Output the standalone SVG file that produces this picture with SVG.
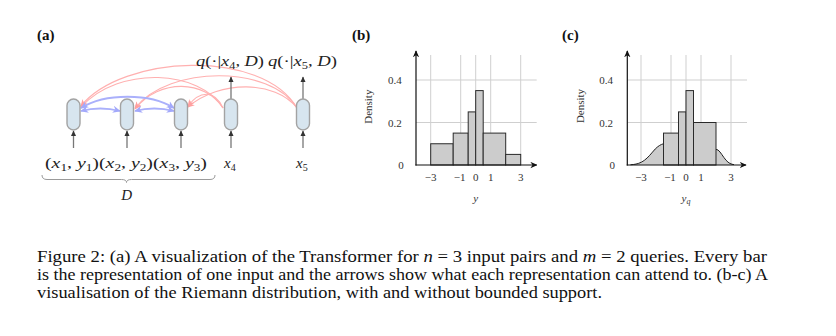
<svg xmlns="http://www.w3.org/2000/svg" width="836" height="336" viewBox="0 0 836 336">
<style>
.lbl{font-family:"Liberation Serif","Times New Roman",serif;font-weight:bold;font-size:15px;fill:#111}
.math{font-family:"Liberation Serif","DejaVu Serif",serif;font-size:15px;fill:#222}
.it{font-style:italic}
.node{fill:#d7e5ef;stroke:#a3a3a3;stroke-width:1.4}
.vin{stroke:#777;stroke-width:1.3;fill:none;marker-end:url(#ah)}
.pink{stroke:#ffb0b0;stroke-width:1.1;fill:none;marker-end:url(#ap)}
.blue{stroke:#aab0fb;stroke-width:1.8;fill:none;marker-start:url(#ab);marker-end:url(#ab)}
.grid{stroke:#cfcfcf;stroke-width:1}
.axis{stroke:#111;stroke-width:1.2;fill:none;marker-end:url(#ax)}
.bar{fill:#cccccc;stroke:#2a2a2a;stroke-width:1}
.tick{font-family:"Liberation Serif","DejaVu Serif",serif;font-size:11px;fill:#333}
.cap{font-family:"Liberation Serif","Times New Roman",serif;font-size:16.5px;fill:#111}
</style>
<defs>
<marker id="ah" viewBox="0 0 10 10" refX="9" refY="5" markerWidth="6" markerHeight="7" markerUnits="userSpaceOnUse" orient="auto"><path d="M0,0.5 L10,5 L0,9.5 Z" fill="#333"/></marker>
<marker id="ap" viewBox="0 0 10 10" refX="9" refY="5" markerWidth="7" markerHeight="7" markerUnits="userSpaceOnUse" orient="auto"><path d="M0,0.5 L10,5 L0,9.5 L3,5 Z" fill="#ff9f9f"/></marker>
<marker id="ab" viewBox="0 0 10 10" refX="9" refY="5" markerWidth="8" markerHeight="8" markerUnits="userSpaceOnUse" orient="auto-start-reverse"><path d="M0,0.5 L10,5 L0,9.5 L3,5 Z" fill="#a3a9fb"/></marker>
<marker id="ax" viewBox="0 0 10 10" refX="9" refY="5" markerWidth="7" markerHeight="7" markerUnits="userSpaceOnUse" orient="auto"><path d="M0,0.5 L10,5 L0,9.5 L3,5 Z" fill="#111"/></marker>
</defs>
<rect width="836" height="336" fill="#ffffff"/>

<!-- panel labels -->
<text class="lbl" x="37" y="40">(a)</text>
<text class="lbl" x="352" y="40">(b)</text>
<text class="lbl" x="562" y="40">(c)</text>

<!-- connectors -->
<g id="connectors">
<path class="pink" d="M297,108 C262,48 122,55 81,106"/>
<path class="pink" d="M223,108 C200,70 120,65 81,107"/>
<path class="pink" d="M297,108 C270,65 170,65 135,108"/>
<path class="pink" d="M223,108 C205,80 160,78 135,109"/>
<path class="pink" d="M297,108 C275,80 220,80 188,107"/>
<path class="pink" d="M223,108 C215,90 200,90 188,106"/>
<path class="blue" d="M81,108 C105,93 150,93 174,108"/>
<path class="blue" d="M81,111 Q100,106 120,111"/>
<path class="blue" d="M135,111 Q154,106 174,111"/>
<line class="vin" x1="73.5" y1="148" x2="73.5" y2="131"/>
<line class="vin" x1="127" y1="148" x2="127" y2="131"/>
<line class="vin" x1="181" y1="148" x2="181" y2="131"/>
<line class="vin" x1="231" y1="148" x2="231" y2="131"/>
<line class="vin" x1="303" y1="148" x2="303" y2="131"/>
<line class="vin" x1="231" y1="99" x2="231" y2="77"/>
<line class="vin" x1="303" y1="99" x2="303" y2="77"/>
</g>

<!-- nodes -->
<g id="node-1"><rect class="node" x="67" y="99" width="13" height="31" rx="6.5"/></g>
<g id="node-2"><rect class="node" x="120.5" y="99" width="13" height="31" rx="6.5"/></g>
<g id="node-3"><rect class="node" x="174.5" y="99" width="13" height="31" rx="6.5"/></g>
<g id="node-4"><rect class="node" x="224.5" y="99" width="13" height="31" rx="6.5"/></g>
<g id="node-5"><rect class="node" x="296.5" y="99" width="13" height="31" rx="6.5"/></g>

<!-- labels panel a -->
<text class="math" x="196" y="66" textLength="68" lengthAdjust="spacingAndGlyphs"><tspan class="it">q</tspan>(·|<tspan class="it">x</tspan><tspan font-size="10" dy="3">4</tspan><tspan dy="-3">, </tspan><tspan class="it">D</tspan>)</text>
<text class="math" x="268" y="66" textLength="69" lengthAdjust="spacingAndGlyphs"><tspan class="it">q</tspan>(·|<tspan class="it">x</tspan><tspan font-size="10" dy="3">5</tspan><tspan dy="-3">, </tspan><tspan class="it">D</tspan>)</text>
<text class="math" x="45" y="168" textLength="162" lengthAdjust="spacingAndGlyphs">(<tspan class="it">x</tspan><tspan font-size="10" dy="3">1</tspan><tspan dy="-3">, </tspan><tspan class="it">y</tspan><tspan font-size="10" dy="3">1</tspan><tspan dy="-3">)(</tspan><tspan class="it">x</tspan><tspan font-size="10" dy="3">2</tspan><tspan dy="-3">, </tspan><tspan class="it">y</tspan><tspan font-size="10" dy="3">2</tspan><tspan dy="-3">)(</tspan><tspan class="it">x</tspan><tspan font-size="10" dy="3">3</tspan><tspan dy="-3">, </tspan><tspan class="it">y</tspan><tspan font-size="10" dy="3">3</tspan><tspan dy="-3">)</tspan></text>
<text class="math" x="224" y="168"><tspan class="it">x</tspan><tspan font-size="10" dy="3">4</tspan></text>
<text class="math" x="296" y="168"><tspan class="it">x</tspan><tspan font-size="10" dy="3">5</tspan></text>
<path d="M42,175 Q42,179.5 47,179.5 L121.5,179.5 Q126.5,179.5 126.5,182.5 Q126.5,179.5 131.5,179.5 L210,179.5 Q215,179.5 215,175" fill="none" stroke="#9a9a9a" stroke-width="1"/>
<text class="math it" x="126.7" y="200" text-anchor="middle">D</text>

<!-- panel b -->
<g id="plot-b" transform="translate(475.7,165)">
<g class="grid">
<line x1="-45" y1="0" x2="-45" y2="-110"/><line x1="-15" y1="0" x2="-15" y2="-110"/><line x1="0" y1="0" x2="0" y2="-110"/><line x1="15" y1="0" x2="15" y2="-110"/><line x1="45" y1="0" x2="45" y2="-110"/>
<line x1="-59.7" y1="-42.5" x2="61" y2="-42.5"/><line x1="-59.7" y1="-85" x2="61" y2="-85"/>
</g>
<rect class="bar" x="-45" y="-21.25" width="22.5" height="21.25"/>
<rect class="bar" x="-22.5" y="-31.9" width="15" height="31.9"/>
<rect class="bar" x="-7.5" y="-53.1" width="7.5" height="53.1"/>
<rect class="bar" x="0" y="-74.4" width="7.5" height="74.4"/>
<rect class="bar" x="7.5" y="-31.9" width="22.5" height="31.9"/>
<rect class="bar" x="30" y="-10.6" width="15" height="10.6"/>
<line class="axis" x1="-60.3" y1="0" x2="61" y2="0"/>
<line class="axis" x1="-59.7" y1="0.6" x2="-59.7" y2="-114"/>
<text class="tick" x="-74" y="-81" text-anchor="end">0.4</text>
<text class="tick" x="-74" y="-38.5" text-anchor="end">0.2</text>
<text class="tick" x="-72" y="4" text-anchor="end">0</text>
<text class="tick" x="-45" y="16" text-anchor="middle">−3</text>
<text class="tick" x="-16" y="16" text-anchor="middle">−1</text>
<text class="tick" x="0" y="16" text-anchor="middle">0</text>
<text class="tick" x="15" y="16" text-anchor="middle">1</text>
<text class="tick" x="45" y="16" text-anchor="middle">3</text>
<text class="tick it" x="0" y="37" text-anchor="middle">y</text>
<text class="tick" font-size="10" transform="translate(-103.5,-58.3) rotate(-90)" text-anchor="middle">Density</text>
</g>

<!-- panel c -->
<g id="plot-c" transform="translate(686,165)">
<g class="grid">
<line x1="-45" y1="0" x2="-45" y2="-110"/><line x1="-15" y1="0" x2="-15" y2="-110"/><line x1="0" y1="0" x2="0" y2="-110"/><line x1="15" y1="0" x2="15" y2="-110"/><line x1="45" y1="0" x2="45" y2="-110"/>
<line x1="-58.7" y1="-42.5" x2="61" y2="-42.5"/><line x1="-58.7" y1="-85" x2="61" y2="-85"/>
</g>
<path d="M-22.5,0 L-22.5,-21.25 L-25.25,-20.6 L-28,-18.75 L-30.75,-16.04 L-33.5,-12.89 L-36.25,-9.73 L-39,-6.9 L-41.75,-4.6 L-44.5,-2.88 L-47.25,-1.69 L-50,-0.93 L-52.75,-0.48 L-55.5,-0.24 L-55.5,0 Z" fill="#cccccc"/>
<path d="M-22.5,-21.25 C-25.25,-20.6 -28,-18.75 -30.75,-16.04 L-33.5,-12.89 L-36.25,-9.73 L-39,-6.9 L-41.75,-4.6 L-44.5,-2.88 L-47.25,-1.69 L-50,-0.93 L-52.75,-0.48 L-55.5,-0.24" fill="none" stroke="#222" stroke-width="1" stroke-linejoin="round"/>
<path d="M30,0 L30,-15.7 L32,-14.98 L34,-12.99 L36,-10.25 L38,-7.37 L40,-4.81 L42,-2.86 L44,-1.54 L46,-0.76 L48,-0.34 L48,0 Z" fill="#cccccc"/>
<path d="M30,-15.7 L32,-14.98 L34,-12.99 L36,-10.25 L38,-7.37 L40,-4.81 L42,-2.86 L44,-1.54 L46,-0.76 L48,-0.34" fill="none" stroke="#222" stroke-width="1" stroke-linejoin="round"/>
<rect class="bar" x="-22.5" y="-31.9" width="15" height="31.9"/>
<rect class="bar" x="-7.5" y="-53.1" width="7.5" height="53.1"/>
<rect class="bar" x="0" y="-74.4" width="7.5" height="74.4"/>
<rect class="bar" x="7.5" y="-42.5" width="22.5" height="42.5"/>
<line class="axis" x1="-59.3" y1="0" x2="60" y2="0"/>
<line class="axis" x1="-58.7" y1="0.6" x2="-58.7" y2="-114"/>
<text class="tick" x="-73" y="-81" text-anchor="end">0.4</text>
<text class="tick" x="-73" y="-38.5" text-anchor="end">0.2</text>
<text class="tick" x="-71" y="4" text-anchor="end">0</text>
<text class="tick" x="-45" y="16" text-anchor="middle">−3</text>
<text class="tick" x="-16" y="16" text-anchor="middle">−1</text>
<text class="tick" x="0" y="16" text-anchor="middle">0</text>
<text class="tick" x="15" y="16" text-anchor="middle">1</text>
<text class="tick" x="45" y="16" text-anchor="middle">3</text>
<text class="tick" x="0" y="37" text-anchor="middle"><tspan class="it">y</tspan><tspan class="it" font-size="8" dy="2">q</tspan></text>
<text class="tick" font-size="10" transform="translate(-102,-59) rotate(-90)" text-anchor="middle">Density</text>
</g>

<!-- caption -->
<text class="cap" x="37" y="262" textLength="730" lengthAdjust="spacingAndGlyphs">Figure 2: (a) A visualization of the Transformer for <tspan class="it">n</tspan> = 3 input pairs and <tspan class="it">m</tspan> = 2 queries. Every bar</text>
<text class="cap" x="37" y="280" textLength="731" lengthAdjust="spacingAndGlyphs">is the representation of one input and the arrows show what each representation can attend to. (b-c) A</text>
<text class="cap" x="37" y="298" textLength="565" lengthAdjust="spacingAndGlyphs">visualisation of the Riemann distribution, with and without bounded support.</text>
</svg>
